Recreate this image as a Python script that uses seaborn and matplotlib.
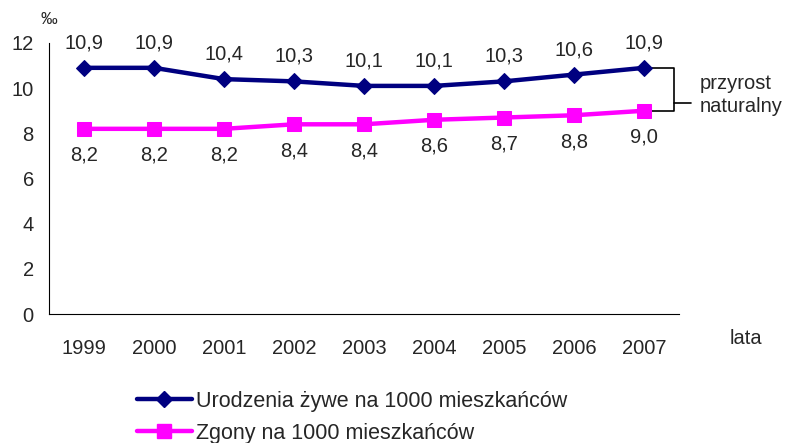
import matplotlib
matplotlib.use("Agg")
import matplotlib.pyplot as plt
import seaborn as sns
import pandas as pd
from matplotlib.lines import Line2D

years = ["1999", "2000", "2001", "2002", "2003", "2004", "2005", "2006", "2007"]
births = [10.9, 10.9, 10.4, 10.3, 10.1, 10.1, 10.3, 10.6, 10.9]
deaths = [8.2, 8.2, 8.2, 8.4, 8.4, 8.6, 8.7, 8.8, 9.0]
births_label = "Urodzenia żywe na 1000 mieszkańców"
deaths_label = "Zgony na 1000 mieszkańców"
y_ticks = [0, 2, 4, 6, 8, 10, 12]

sns.set_theme(style="white")
plt.rcParams["font.family"] = ["Liberation Sans", "DejaVu Sans"]
fs = 14.5

navy = "#000080"
magenta = "#FF00FF"

fig = plt.figure(figsize=(7.87, 4.43), dpi=100)
ax = fig.add_axes([0.0623, 0.291, 0.8005, 0.612])

df = pd.DataFrame({"rok": years, "urodzenia": births, "zgony": deaths})

sns.lineplot(data=df, x="rok", y="urodzenia", ax=ax, color=navy, lw=3.2,
             marker="D", markersize=8.5, markeredgecolor=navy, sort=False)
sns.lineplot(data=df, x="rok", y="zgony", ax=ax, color=magenta, lw=3.2,
             marker="s", markersize=10, markeredgecolor=magenta, sort=False)

# value labels: births above, deaths below
for i, (b, d) in enumerate(zip(births, deaths)):
    ax.annotate(f"{b:.1f}".replace(".", ","), (i, b), xytext=(0, 18),
                textcoords="offset points", ha="center", va="center", fontsize=fs)
    ax.annotate(f"{d:.1f}".replace(".", ","), (i, d), xytext=(0, -19),
                textcoords="offset points", ha="center", va="center", fontsize=fs)

ax.set_xlim(-0.5, len(years) - 0.5)
ax.set_ylim(0, 12)
ax.set_yticks(y_ticks)
ax.set_yticklabels([str(v) for v in y_ticks], fontsize=fs)
ax.set_xticks(range(len(years)))
ax.set_xticklabels(years, fontsize=fs)
ax.set_xticks([i - 0.5 for i in range(len(years) + 1)], minor=True)
ax.tick_params(axis="x", which="major", length=0, pad=18)
ax.tick_params(axis="x", which="minor", length=5, width=0.8, color="black", direction="out")
ax.tick_params(axis="y", which="major", length=5, width=0.8, color="black", direction="out", pad=6)
ax.set_xlabel("")
ax.set_ylabel("")
for side in ("top", "right"):
    ax.spines[side].set_visible(False)
for side in ("left", "bottom"):
    ax.spines[side].set_color("black")
    ax.spines[side].set_linewidth(0.8)
ax.grid(False)

# bracket marking the natural increase between the two lines
last = len(years) - 1
xb0, xb1, xb2 = last + 0.12, last + 0.43, last + 0.67
ymid = 9.35
ax.plot([xb0, xb1, xb1, xb0], [births[-1], births[-1], deaths[-1], deaths[-1]],
        color="black", lw=1.2, clip_on=False, zorder=1)
ax.plot([xb1, xb2], [ymid, ymid], color="black", lw=1.2, clip_on=False)
fig.text(0.889, 0.812, "przyrost", fontsize=fs, ha="left", va="center")
fig.text(0.889, 0.76, "naturalny", fontsize=fs, ha="left", va="center")

fig.text(0.052, 0.955, "‰", fontsize=12, ha="left", va="center")
fig.text(0.927, 0.237, "lata", fontsize=fs, ha="left", va="center")

handles = [
    Line2D([], [], color=navy, lw=3.2, marker="D", markersize=8.5),
    Line2D([], [], color=magenta, lw=3.2, marker="s", markersize=10),
]
fig.legend(handles, [births_label, deaths_label], loc="upper left",
           bbox_to_anchor=(0.174, 0.118), bbox_transform=fig.transFigure,
           frameon=False, fontsize=15.5, handlelength=2.55, handletextpad=0.2,
           labelspacing=0.52, borderpad=0, borderaxespad=0)

fig.savefig("out.png", dpi=100)
